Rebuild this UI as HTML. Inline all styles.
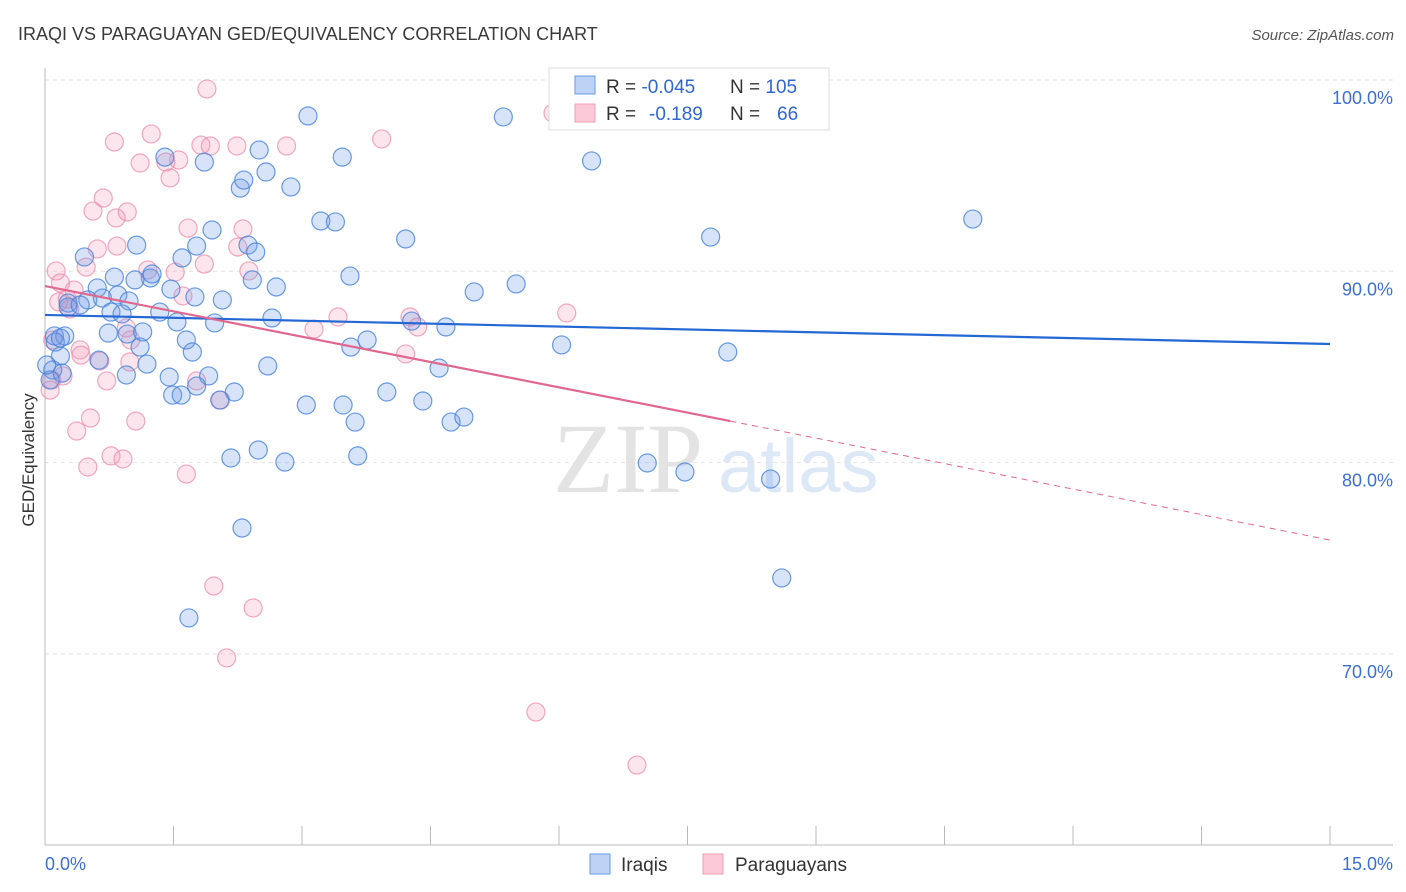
<!DOCTYPE html>
<html><head><meta charset="utf-8"><style>
body{margin:0;background:#fff;font-family:"Liberation Sans",sans-serif;}
svg{display:block}
</style></head><body>
<svg id="chart" width="1406" height="892">
<text x="18" y="40" font-size="18" fill="#3a3a3a">IRAQI VS PARAGUAYAN GED/EQUIVALENCY CORRELATION CHART</text>
<text x="1394" y="40" font-size="15" fill="#555" text-anchor="end" font-style="italic">Source: ZipAtlas.com</text>
<g>
<text x="553" y="492" font-size="100" font-family="Liberation Serif,serif" fill="#e3e3e3">ZIP</text>
<text x="718" y="492" font-size="76" fill="#dde8f6">atlas</text>
</g>
<g id="grid"></g>
<g id="axes"></g>
<g id="marks"></g>
<text transform="translate(34,460) rotate(-90)" font-size="17" fill="#333" text-anchor="middle">GED/Equivalency</text>
<g>
<rect x="549" y="68" width="280" height="62" fill="#fff" stroke="#ddd"/>
<rect x="575" y="76" width="20" height="18" fill="#bcd3f5" stroke="#6a9be3"/>
<rect x="575" y="104" width="20" height="18" fill="#fbc9d8" stroke="#f0a0b8"/>
<text x="606" y="93" font-size="19" fill="#333">R = <tspan fill="#2f66d0">-0.045</tspan><tspan x="730">N = </tspan><tspan fill="#2f66d0">105</tspan></text>
<text x="606" y="120" font-size="19" fill="#333">R = <tspan x="649" fill="#2f66d0">-0.189</tspan><tspan x="730">N = </tspan><tspan x="777" fill="#2f66d0">66</tspan></text>
</g>
<g>
<rect x="590" y="854" width="20" height="20" fill="#bcd3f5" stroke="#6a9be3"/>
<text x="621" y="871" font-size="19" fill="#333">Iraqis</text>
<rect x="703" y="854" width="20" height="20" fill="#fbc9d8" stroke="#f0a0b8"/>
<text x="735" y="871" font-size="19" fill="#333">Paraguayans</text>
</g>
</svg>
<script>
const yTicks=[100,90,80,70];
const yTickLabels=["100.0%","90.0%","80.0%","70.0%"];
const xTickCount=10;
const xLabels=["0.0%","15.0%"];
const iraqiX=[3.07,5.35,6.38,1.40,1.86,2.50,3.47,2.28,2.32,2.58,2.87,3.22,3.39,1.95,4.21,7.77,10.83,1.07,1.77,2.37,2.46,0.46,1.60,0.81,1.23,1.05,1.25,3.56,2.42,2.70,5.50,5.01,0.61,0.27,0.50,0.67,0.85,0.98,1.75,2.07,1.47,1.34,0.77,0.90,0.27,0.41,1.54,1.98,2.65,4.28,4.68,0.11,0.23,0.74,0.96,1.14,1.65,1.72,1.11,3.76,3.57,6.03,7.97,0.18,0.63,1.19,2.60,4.60,0.09,0.20,0.95,1.45,1.91,1.77,1.49,1.59,2.21,3.99,2.04,3.05,3.48,4.41,3.62,4.74,4.89,2.17,2.49,2.80,3.65,7.03,7.47,8.47,2.30,8.60,1.68,0.06,0.02,0.12,0.18];
const iraqiY=[98.12,98.07,95.77,95.97,95.71,96.34,95.97,94.35,94.77,95.19,94.41,92.63,92.58,92.16,91.69,91.79,92.73,91.37,91.32,91.37,91.01,90.75,90.70,89.70,89.65,89.55,89.86,89.75,89.55,89.18,89.34,88.92,89.13,88.34,88.50,88.60,88.76,88.45,88.66,88.50,89.07,87.87,87.87,87.77,88.13,88.24,87.35,87.30,87.56,87.40,87.09,86.62,86.62,86.77,86.72,86.83,86.41,85.78,86.04,86.41,86.04,86.15,85.78,85.57,85.36,85.15,85.05,84.94,84.84,84.68,84.58,84.47,84.53,84.00,83.53,83.53,83.69,83.69,83.27,83.01,83.01,83.22,82.12,82.12,82.38,80.24,80.66,80.03,80.35,79.98,79.51,79.14,76.58,73.97,71.88,84.32,85.10,86.30,86.51];
const paraX=[1.89,5.93,0.81,1.24,3.93,1.11,1.41,1.56,1.46,1.82,1.93,2.24,2.82,0.68,0.56,0.83,0.96,1.67,2.31,0.61,0.84,2.25,0.13,0.48,1.20,1.52,1.86,2.38,0.18,0.34,0.26,0.16,0.29,1.61,3.42,4.26,4.35,3.14,6.09,0.95,1.00,0.09,0.41,0.42,0.64,0.99,4.21,0.21,0.72,1.77,2.05,0.53,0.37,1.06,0.77,0.91,0.50,1.65,1.97,2.43,2.12,5.73,6.91,0.06,0.08];
const paraY=[99.53,98.27,96.76,97.18,96.92,95.66,95.71,95.82,94.88,96.60,96.55,96.55,96.55,93.83,93.15,92.79,93.10,92.26,92.21,91.17,91.32,91.27,90.02,90.22,90.07,89.96,90.38,90.02,89.39,89.02,88.55,88.40,88.03,88.71,87.61,87.61,87.09,86.98,87.82,87.04,86.41,86.41,85.89,85.62,85.31,85.26,85.68,84.53,84.27,84.27,83.27,82.33,81.65,82.17,80.35,80.19,79.77,79.40,73.55,72.40,69.79,66.96,64.19,83.79,84.32];
const iraqiTrend=[87.72,86.2];
const paraTrend=[89.23,82.17,75.95];
const paraTrendSolidEnd=8;
const xMin=0,xMax=15;

const NS="http://www.w3.org/2000/svg";
const X0=45,X1=1330,Y100=80,PPU=19.13;
const sx=v=>X0+(v-xMin)/(xMax-xMin)*(X1-X0);
const sy=v=>Y100+(100-v)*PPU;
function mk(tag,attrs,parent){const e=document.createElementNS(NS,tag);for(const k in attrs)e.setAttribute(k,attrs[k]);parent.appendChild(e);return e;}
const grid=document.getElementById('grid'),axes=document.getElementById('axes'),marks=document.getElementById('marks');
yTicks.forEach((t,i)=>{
  const l=mk('line',{x1:X0,x2:1393,y1:sy(t),y2:sy(t),stroke:'#e2e2e2','stroke-dasharray':'4,4'},grid);
  
  
  const tx=mk('text',{x:1393,y:sy(t)+24,'font-size':18,fill:'#3b6fd4','text-anchor':'end'},axes);
  tx.textContent=yTickLabels[i];
  
  
});
let a=mk('line',{x1:X0,x2:X0,y1:68,y2:845,stroke:'#bbb'},axes);


a=mk('line',{x1:X0,x2:1393,y1:845,y2:845,stroke:'#bbb'},axes);


for(let i=1;i<=xTickCount;i++){
  const v=xMin+i*(xMax-xMin)/xTickCount;
  const t=mk('line',{x1:sx(v),x2:sx(v),y1:826,y2:845,stroke:'#bbb'},axes);
  
  
}
let xl=mk('text',{x:X0,y:870,'font-size':18,fill:'#3b6fd4'},axes);xl.textContent=xLabels[0];


xl=mk('text',{x:1393,y:870,'font-size':18,fill:'#3b6fd4','text-anchor':'end'},axes);xl.textContent=xLabels[1];



paraX.forEach((x,i)=>{
  const c=mk('circle',{cx:sx(x),cy:sy(paraY[i]),r:9,fill:'rgba(243,150,180,0.25)',stroke:'rgba(236,140,170,0.75)','stroke-width':1.2},marks);
  
  
});
iraqiX.forEach((x,i)=>{
  const c=mk('circle',{cx:sx(x),cy:sy(iraqiY[i]),r:9,fill:'rgba(110,155,230,0.28)',stroke:'rgba(70,130,220,0.8)','stroke-width':1.2},marks);
  
  
});
let tl=mk('line',{x1:sx(xMin),y1:sy(iraqiTrend[0]),x2:sx(xMax),y2:sy(iraqiTrend[1]),stroke:'#2468d4','stroke-width':2.2},marks);


tl=mk('line',{x1:sx(xMin),y1:sy(paraTrend[0]),x2:sx(paraTrendSolidEnd),y2:sy(paraTrend[1]),stroke:'#e0688f','stroke-width':2.2},marks);


tl=mk('line',{x1:sx(paraTrendSolidEnd),y1:sy(paraTrend[1]),x2:sx(xMax),y2:sy(paraTrend[2]),stroke:'#e0688f','stroke-width':1,'stroke-dasharray':'6,5'},marks);


</script>
</body></html>
